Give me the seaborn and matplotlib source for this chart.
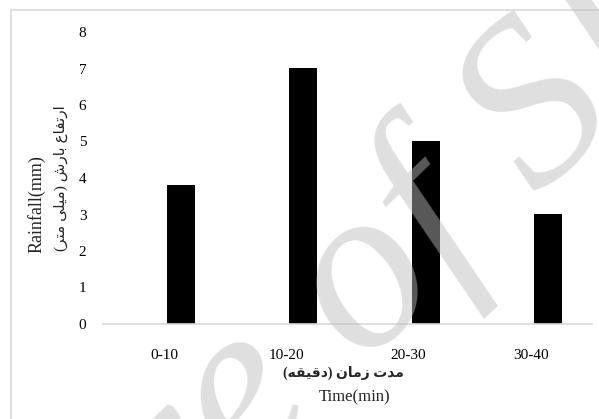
import numpy as np
import pandas as pd
import matplotlib
matplotlib.use("Agg")
import matplotlib.pyplot as plt
import seaborn as sns
from matplotlib.patches import Rectangle

# data
periods = ["0-10", "10-20", "20-30", "30-40"]
rainfall = [3.8, 7.0, 5.0, 3.0]
y_ticks = [0, 1, 2, 3, 4, 5, 6, 7, 8]

# Persian labels, pre-shaped (presentation forms, visual order)
fa_ylabel = ("(\ufeae\ufe98\ufee3 \ufef0\ufee0\ufef4\ufee3) "
             "\ufeb5\ufead\ufe8e\ufe91 \ufec9\ufe8e\ufed4\ufe97\ufead\ufe8d")
fa_xlabel = ("(\ufeea\ufed8\ufef4\ufed7\ufea9) "
             "\ufee5\ufe8e\ufee3\ufeaf \ufe95\ufeaa\ufee3")

# the original excel chart has an empty first series, so bars sit right of the tick
df = pd.DataFrame({
    "period": periods * 2,
    "series": ["empty"] * 4 + ["rain"] * 4,
    "value": [np.nan] * 4 + rainfall,
})

sns.set_style("white")
plt.rcParams["font.family"] = ["Liberation Serif", "DejaVu Sans"]

fig = plt.figure(figsize=(5.99, 4.19), dpi=100)
ax = fig.add_axes([103 / 599, 95 / 419, 489 / 599, 292 / 419])

sns.barplot(data=df, x="period", y="value", hue="series",
            hue_order=["empty", "rain"],
            palette={"empty": "white", "rain": "black"},
            width=0.556, gap=0.176, errorbar=None, legend=False,
            linewidth=0, ax=ax)

ax.set_ylim(0, 8)
ax.set_yticks(y_ticks)
ax.set_xlim(-0.5, 3.5)
ax.set_xlabel("")
ax.set_ylabel("")
ax.tick_params(axis="both", length=0, labelsize=11, colors="black")
ax.tick_params(axis="x", pad=18)
ax.tick_params(axis="y", pad=12)
for s in ["top", "right", "left"]:
    ax.spines[s].set_visible(False)
ax.spines["bottom"].set_color("#d9d9d9")
ax.spines["bottom"].set_linewidth(1.2)

# axis titles
fig.text(37 / 599, 1 - 204 / 419, "Rainfall(mm)", rotation=90,
         ha="center", va="center", fontsize=13)
fig.text(61 / 599, 1 - 178 / 419, fa_ylabel, rotation=90,
         ha="center", va="center", fontsize=11)
fig.text(343 / 599, 1 - 373 / 419, fa_xlabel, ha="center", va="center",
         fontsize=10, fontweight="bold")
fig.text(355 / 599, 1 - 397 / 419, "Time(min)", ha="center", va="center",
         fontsize=12)

# chart frame
fig.add_artist(Rectangle((11 / 599, -0.1), 1.2, (419 - 10) / 419 + 0.1,
                         transform=fig.transFigure, fill=False,
                         edgecolor="#d9d9d9", linewidth=1.2))

# watermark
fig.text(305 / 599, 1 - 436 / 419, "Archive of SID", rotation=44,
         rotation_mode="anchor", ha="center", va="baseline",
         fontsize=170, style="italic", family="Liberation Serif",
         color="#bdbdbd", alpha=0.475, zorder=10)

fig.savefig("out.png", dpi=100)
